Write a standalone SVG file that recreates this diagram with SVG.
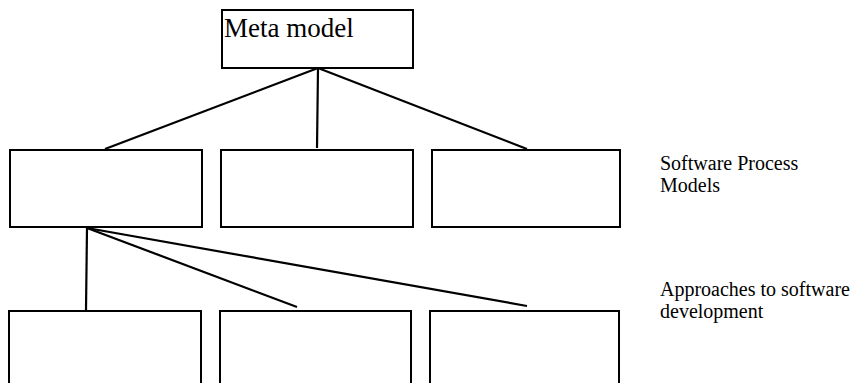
<svg xmlns="http://www.w3.org/2000/svg" width="850" height="383" viewBox="0 0 850 383">
<style>
.box{fill:#fff;stroke:#000;stroke-width:2}
.ln{stroke:#000;stroke-width:2.2;fill:none}
.t{font-family:"Liberation Serif","Times New Roman",serif;fill:#000}
</style>
<rect width="850" height="383" fill="#fff"/>
<g id="connectors">
<line class="ln" x1="318" y1="68" x2="105" y2="149"/>
<line class="ln" x1="318" y1="68" x2="317" y2="148"/>
<line class="ln" x1="318" y1="68" x2="527" y2="149"/>
<line class="ln" x1="87" y1="228" x2="86" y2="310"/>
<line class="ln" x1="87" y1="228" x2="297" y2="307"/>
<line class="ln" x1="87" y1="228" x2="527" y2="306"/>
</g>
<g id="meta"><rect class="box" x="222" y="10" width="191" height="58"/><text class="t" x="224" y="37" font-size="27">Meta model</text></g>
<g id="spm1"><rect class="box" x="10" y="150" width="192" height="77"/></g>
<g id="spm2"><rect class="box" x="221" y="150" width="192" height="77"/></g>
<g id="spm3"><rect class="box" x="432" y="150" width="188" height="77"/></g>
<g id="spm-label"><text class="t" x="660" y="170" font-size="20">Software Process</text><text class="t" x="660" y="192" font-size="20">Models</text></g>
<g id="ap1"><rect class="box" x="9" y="311" width="192" height="85"/></g>
<g id="ap2"><rect class="box" x="220" y="311" width="191" height="85"/></g>
<g id="ap3"><rect class="box" x="430" y="311" width="189" height="85"/></g>
<g id="ap-label"><text class="t" x="660" y="296" font-size="20">Approaches to software</text><text class="t" x="660" y="318" font-size="20">development</text></g>
</svg>
